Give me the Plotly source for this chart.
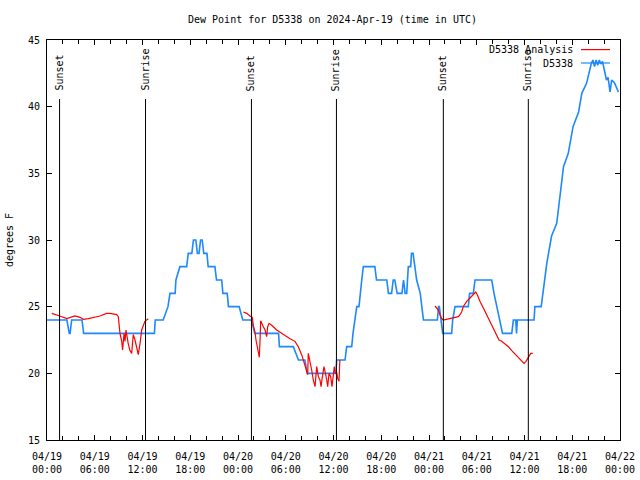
import plotly.graph_objects as go
import pandas as pd

# ---- data (times are hours since 2024-04-19 00:00 UTC) ----
START = pd.Timestamp("2024-04-19 00:00")

obs_hours = [0, 2.5, 2.8, 2.9, 3.1, 4.4, 4.6, 13.5, 13.6, 14.6, 15.2, 15.45, 16.1, 16.2, 16.7,
             17.55, 17.75, 18.2, 18.4, 18.7, 18.9, 19.1, 19.3, 19.5, 19.7, 20.1, 20.25, 21.1,
             21.3, 21.95, 22.1, 22.65, 22.8, 24.15, 24.6, 25.7, 26.1, 29.1, 29.2, 30.95, 31.6,
             32.4, 32.7, 36.3, 36.4, 37.45, 37.66, 38.29, 38.45, 38.7, 38.92, 39.2, 39.33,
             39.55, 39.75, 41.2, 41.4, 42.7, 42.9, 43.3, 43.5, 43.7, 44.0, 44.6, 44.8, 45.0,
             45.2, 45.4, 45.7, 45.8, 46.0, 46.2, 46.45, 46.9, 47.1, 47.3, 49.05, 49.2, 49.3,
             49.5, 49.72, 50.85, 50.97, 51.27, 52.94, 53.1, 53.57, 53.78, 55.88, 56.17, 56.5,
             56.9, 57.24, 58.4, 58.6, 58.9, 59.0, 59.1, 61.2, 61.3, 62.1, 62.8, 63.4, 64.05,
             64.5, 64.9, 65.5, 66.1, 66.8, 67.2, 67.8, 68.4, 68.6, 68.8, 69.0, 69.2, 69.4,
             69.6, 69.8, 70.3, 70.5, 70.75, 70.95, 71.3, 71.8]
obs_dewpt = [24, 24, 23, 23, 24, 24, 23, 23, 24, 24, 25, 26, 26, 27, 28,
             28, 29, 29, 30, 30, 29, 29, 30, 30, 29, 29, 28, 28,
             27, 27, 26, 26, 25, 25, 24, 24, 23, 23, 22, 22, 21,
             21, 20, 20, 21, 21, 22, 22, 23, 24, 25, 25, 26,
             27, 28, 28, 27, 27, 26, 26, 27, 27, 26, 26, 27, 26,
             26, 28, 28, 29, 29, 28, 27, 26, 25, 24, 24, 25, 25,
             24, 23, 23, 24, 25, 25, 26, 26, 27, 27, 26, 25,
             24, 23, 23, 24, 24, 23, 24, 24, 25, 25, 28.25, 30.3, 31.25,
             33.75, 35.5, 36.5, 38.5, 39.6, 41, 41.75, 43.25, 43.5, 43, 43.5, 43.1, 43.5,
             43.2, 43.4, 42, 42.2, 41.1, 42, 41.8, 41.1]

ana1_hours = [0.6, 1.2, 1.6, 2.5, 3.1, 3.5, 4.15, 4.56, 5.2, 6.0, 6.66, 7.5, 7.9, 8.76, 8.96,
              9.17, 9.39, 9.5, 9.68, 9.8, 9.93, 10.2, 10.4, 10.64, 10.84, 11.06, 11.27, 11.47,
              11.69, 11.9, 12.3, 12.73]
ana1_dewpt = [24.5, 24.4, 24.3, 24.1, 24.2, 24.3, 24.2, 24.05, 24.1, 24.2, 24.3, 24.5, 24.5, 24.4,
              24.25, 23.0, 22.4, 21.75, 23.0, 22.4, 23.25, 22.25, 21.75, 21.5, 22.9, 22.5, 22.0,
              21.4, 22.25, 23.25, 23.9, 24.1]
ana2_hours = [24.67, 25.1, 25.5, 25.8, 25.92, 26.14, 26.26, 26.43, 26.55, 26.68, 26.77, 26.85,
              27.18, 27.4, 27.6, 27.73, 27.9, 28.24, 28.86, 29.69, 30.54, 31.16, 31.58, 32.0,
              32.42, 32.63, 32.76, 32.83, 33.05, 33.26, 33.46, 33.68, 33.89, 34.1, 34.3, 34.43,
              34.64, 34.81, 35.15, 35.27, 35.44, 35.65, 35.81, 35.98, 36.1, 36.23, 36.4, 36.53,
              36.69, 36.8]
ana2_dewpt = [24.6, 24.5, 24.3, 24.2, 23.6, 23.1, 22.5, 22.0, 21.5, 21.2, 22.5, 23.95,
              23.5, 23.25, 22.75, 23.5, 23.75, 23.6, 23.25, 22.9, 22.6, 22.4, 22.0, 21.4,
              20.6, 20.1, 19.9, 21.5, 20.9, 20.25, 19.5, 19.0, 20.5, 19.75, 19.5, 19.0,
              19.9, 20.5, 19.5, 19.0, 20.0, 19.75, 19.0, 20.1, 20.5, 20.0, 20.1, 19.6,
              19.4, 21.0]
ana3_hours = [48.76, 49.17, 49.38, 49.6, 49.8, 50.23, 50.64, 51.06, 51.68, 51.9, 52.1, 52.3,
              52.74, 53.15, 53.57, 53.87, 54.07, 54.4, 54.83, 55.25, 55.67, 56.08, 56.5, 56.8,
              57.14, 57.55, 57.97, 58.4, 58.8, 59.22, 59.65, 59.94, 60.19, 60.48, 60.78, 61.03]
ana3_dewpt = [25.05, 24.75, 24.4, 24.1, 24.0, 24.05, 24.1, 24.2, 24.25, 24.4, 24.6, 25.0,
              25.4, 25.65, 25.9, 26.1, 25.9, 25.4, 24.9, 24.4, 23.9, 23.4, 22.9, 22.5,
              22.4, 22.2, 22.0, 21.7, 21.45, 21.25, 20.9, 20.75, 20.9, 21.2, 21.5, 21.5]

sun_hours = [1.58, 12.38, 25.69, 36.37, 49.8, 60.48]
sun_labels = ["Sunset", "Sunrise", "Sunset", "Sunrise", "Sunset", "Sunrise"]

xtick_hours = [0, 6, 12, 18, 24, 30, 36, 42, 48, 54, 60, 66, 72]
xtick_labels = ["04/19<br>00:00", "04/19<br>06:00", "04/19<br>12:00", "04/19<br>18:00",
                "04/20<br>00:00", "04/20<br>06:00", "04/20<br>12:00", "04/20<br>18:00",
                "04/21<br>00:00", "04/21<br>06:00", "04/21<br>12:00", "04/21<br>18:00",
                "04/22<br>00:00"]
xminor_hours = list(range(0, 73, 2))
ytick_vals = [15, 20, 25, 30, 35, 40, 45]

title_text = "Dew Point for D5338 on 2024-Apr-19 (time in UTC)"
series_names = ["D5338 Analysis", "D5338"]
RED = "#ff0000"
BLUE = "#1e88ff"


def to_time(hours):
    return [None if h is None else START + pd.Timedelta(hours=h) for h in hours]


ana_hours = ana1_hours + [None] + ana2_hours + [None] + ana3_hours
ana_dewpt = ana1_dewpt + [None] + ana2_dewpt + [None] + ana3_dewpt

fig = go.Figure()
fig.add_trace(go.Scatter(x=to_time(obs_hours), y=obs_dewpt, mode="lines", name=series_names[1],
                         line=dict(color=BLUE, width=1.6)))
fig.add_trace(go.Scatter(x=to_time(ana_hours), y=ana_dewpt, mode="lines", name=series_names[0],
                         line=dict(color=RED, width=1.2), connectgaps=False))

shapes = []
annotations = []
for h, lab in zip(to_time(sun_hours), sun_labels):
    shapes.append(dict(type="line", xref="x", yref="paper", x0=h, x1=h, y0=0, y1=0.8525,
                       line=dict(color="black", width=1)))
    annotations.append(dict(x=h, y=0.8675, xref="x", yref="paper", text=lab, textangle=-90,
                            showarrow=False, xanchor="center", yanchor="bottom",
                            font=dict(size=10, color="black")))

# legend in the gnuplot style (text left, line sample right)
leg_y = [0.976, 0.9425]
leg_col = [RED, BLUE]
for name, yy, col in zip(series_names, leg_y, leg_col):
    annotations.append(dict(x=0.9215, y=yy, xref="paper", yref="paper", text=name,
                            showarrow=False, xanchor="right", yanchor="middle",
                            font=dict(size=10, color="black")))
    shapes.append(dict(type="line", xref="paper", yref="paper", x0=0.932, x1=0.9825,
                       y0=yy, y1=yy, line=dict(color=col, width=1.2)))

fig.update_layout(
    width=640, height=480,
    margin=dict(l=47, r=20, t=40, b=40, autoexpand=False),
    paper_bgcolor="white", plot_bgcolor="white",
    font=dict(family="DejaVu Sans Mono", size=10, color="black"),
    showlegend=False,
    title=dict(text=title_text, x=0.5195, xref="container", xanchor="center",
               y=0.9604, yref="container", yanchor="middle", font=dict(size=10)),
    shapes=shapes, annotations=annotations,
)
fig.update_xaxes(
    type="date", range=[START, START + pd.Timedelta(hours=72)],
    tickmode="array", tickvals=to_time(xtick_hours), ticktext=xtick_labels,
    ticks="inside", ticklen=5, tickcolor="black", showline=True, linecolor="black",
    linewidth=1, mirror="ticks", showgrid=False, zeroline=False, ticklabelstandoff=7,
    minor=dict(tickmode="array", tickvals=to_time(xminor_hours), ticks="inside",
               ticklen=4, tickcolor="black", showgrid=False),
)
fig.update_yaxes(
    range=[15, 45], tickmode="array", tickvals=ytick_vals,
    ticks="inside", ticklen=5, tickcolor="black", showline=True, linecolor="black",
    linewidth=1, mirror="ticks", showgrid=False, zeroline=False, ticklabelstandoff=4,
    title=dict(text="degrees F", standoff=12, font=dict(size=10)),
)

fig.write_html("out.html", config={"displayModeBar": False},
               post_script="document.body.style.margin='0';")
